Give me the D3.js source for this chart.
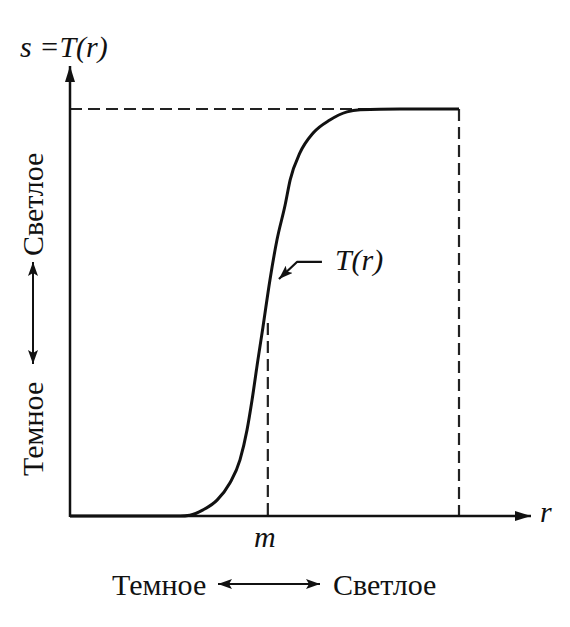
<!DOCTYPE html>
<html><head><meta charset="utf-8">
<script src="https://cdn.jsdelivr.net/npm/d3@7"></script>
<style>
html,body{margin:0;padding:0;background:#fff;}
svg{display:block;}
</style></head>
<body>
<script>
// Data (r and s normalised to 0..1)
const rValues = [0, 0.283, 0.308, 0.342, 0.378, 0.411, 0.437, 0.455, 0.468, 0.483, 0.496, 0.514, 0.532, 0.553, 0.566, 0.591, 0.625, 0.668, 0.712, 0.746, 0.848, 1.0];
const sValues = [0, 0, 0.002, 0.015, 0.039, 0.081, 0.138, 0.211, 0.285, 0.383, 0.464, 0.580, 0.678, 0.764, 0.826, 0.892, 0.941, 0.973, 0.993, 0.998, 1.0, 1.0];
const mValue = 0.506;
const rMax = 1.0;
const sMax = 1.0;
const yTitle = "s =T(r)";
const xTitle = "r";
const mLabel = "m";
const curveLabel = "T(r)";
const darkLabel = "Темное";
const lightLabel = "Светлое";

const W = 570, H = 627;
const FONT = "Liberation Serif";
const svg = d3.select("body").append("svg").attr("width", W).attr("height", H);
const defs = svg.append("defs");
defs.append("marker").attr("id","arr").attr("viewBox","0 0 16 10").attr("refX",16).attr("refY",5)
  .attr("markerWidth",16).attr("markerHeight",10).attr("markerUnits","userSpaceOnUse").attr("orient","auto-start-reverse")
  .append("path").attr("d","M0,0 L16,5 L0,10 Z").attr("fill","#111");
defs.append("marker").attr("id","arrS").attr("viewBox","0 0 14 10").attr("refX",14).attr("refY",5)
  .attr("markerWidth",14).attr("markerHeight",10).attr("markerUnits","userSpaceOnUse").attr("orient","auto-start-reverse")
  .append("path").attr("d","M0,0 L14,5 L0,10 L3,5 Z").attr("fill","#111");

const x = d3.scaleLinear().domain([0, rMax]).range([70, 459]);
const y = d3.scaleLinear().domain([0, sMax]).range([516, 109]);

const g = svg.append("g");
const interp = r => { for (let i=1;i<rValues.length;i++){ if (r<=rValues[i]) { const t=(r-rValues[i-1])/(rValues[i]-rValues[i-1]); return sValues[i-1]+t*(sValues[i]-sValues[i-1]); } } return sMax; };

// dashed guides
const dash = "12,6";
g.append("line").attr("x1", x(0)).attr("x2", x(rMax)).attr("y1", y(sMax)).attr("y2", y(sMax))
  .attr("stroke","#222").attr("stroke-width",2).attr("stroke-dasharray",dash);
g.append("line").attr("x1", x(rMax)).attr("x2", x(rMax)).attr("y1", y(sMax)).attr("y2", y(0))
  .attr("stroke","#222").attr("stroke-width",2.2).attr("stroke-dasharray",dash);
g.append("line").attr("x1", x(mValue)+1).attr("x2", x(mValue)+1).attr("y1", y(interp(mValue))+22).attr("y2", y(0))
  .attr("stroke","#222").attr("stroke-width",2.2).attr("stroke-dasharray",dash);

// axes
g.append("line").attr("x1", x(0)).attr("x2", 531).attr("y1", y(0)).attr("y2", y(0))
  .attr("stroke","#111").attr("stroke-width",2.5).attr("marker-end","url(#arr)");
g.append("line").attr("x1", x(0)).attr("x2", x(0)).attr("y1", y(0)+1).attr("y2", 66)
  .attr("stroke","#111").attr("stroke-width",2.5).attr("marker-end","url(#arr)");

// curve
const line = d3.line().x(d=>x(d[0])).y(d=>y(d[1])).curve(d3.curveMonotoneX);
g.append("path").datum(rValues.map((r,i)=>[r,sValues[i]])).attr("d", line)
  .attr("fill","none").attr("stroke","#111").attr("stroke-width",3).attr("stroke-linejoin","round");

// labels
const txt = (sel) => sel.attr("font-family", FONT).attr("fill","#111");
txt(svg.append("text")).attr("x", 20).attr("y", 57).attr("font-size", 30).attr("font-style","italic").text(yTitle);
txt(svg.append("text")).attr("x", 540).attr("y", 522).attr("font-size", 30).attr("font-style","italic").text(xTitle);
txt(svg.append("text")).attr("x", x(mValue)-2).attr("y", 547).attr("font-size", 30).attr("font-style","italic")
  .attr("text-anchor","middle").text(mLabel);

// annotation T(r)
const ar = 0.514, ax = x(ar) + 7, ay = y(interp(ar));
svg.append("path").attr("d", `M${ax+45},${ay-18} L${ax+20},${ay-18} L${ax+2},${ay-1}`)
  .attr("fill","none").attr("stroke","#111").attr("stroke-width",2.2).attr("stroke-linejoin","round").attr("marker-end","url(#arrS)");
txt(svg.append("text")).attr("x", ax+58).attr("y", ay-10).attr("font-size", 30).attr("font-style","italic").text(curveLabel);

// bottom labels
const fs = 30;
txt(svg.append("text")).attr("x", 112).attr("y", 595).attr("font-size", fs).text(darkLabel);
svg.append("line").attr("x1", 218).attr("x2", 320).attr("y1", 584).attr("y2", 584)
  .attr("stroke","#111").attr("stroke-width",2).attr("marker-start","url(#arrS)").attr("marker-end","url(#arrS)");
txt(svg.append("text")).attr("x", 333).attr("y", 595).attr("font-size", fs).text(lightLabel);

// left vertical labels
const lg = svg.append("g").attr("transform","translate(43,0) rotate(-90)");
txt(lg.append("text")).attr("x", -476).attr("y", 0).attr("font-size", fs).text(darkLabel);
svg.append("line").attr("x1", 33).attr("x2", 33).attr("y1", 364).attr("y2", 262)
  .attr("stroke","#111").attr("stroke-width",2).attr("marker-start","url(#arrS)").attr("marker-end","url(#arrS)");
txt(lg.append("text")).attr("x", -256).attr("y", 0).attr("font-size", fs).text(lightLabel);
</script>
</body></html>
